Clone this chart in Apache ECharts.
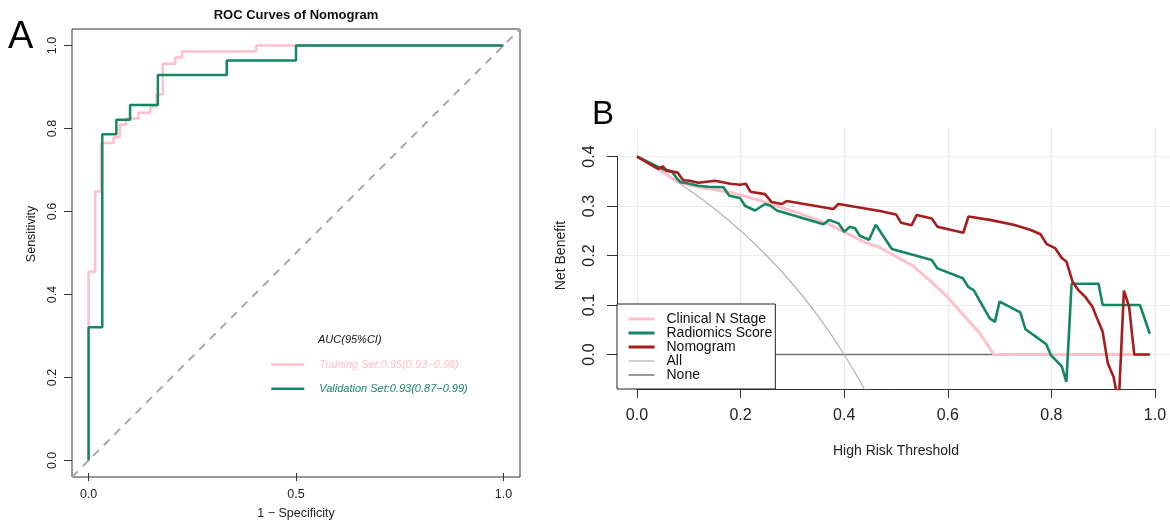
<!DOCTYPE html>
<html>
<head>
<meta charset="utf-8">
<title>ROC curves and decision curves of the nomogram</title>
<script src="https://cdn.jsdelivr.net/npm/echarts@6/dist/echarts.min.js"></script>
<style>
  html, body { margin: 0; padding: 0; background: #fff; }
  #chart { width: 1170px; height: 525px; }
</style>
</head>
<body>
<div id="chart"></div>
<script>
// ---- Panel A: ROC curves (step points, drawn with step: 'end') ----
const rocTrainFpr = [0, 0, 0.016, 0.030, 0.060, 0.075, 0.090, 0.120, 0.149, 0.164, 0.179, 0.209, 0.225, 0.404, 1.0]
const rocTrainTpr = [0, 0.455, 0.648, 0.765, 0.779, 0.809, 0.824, 0.838, 0.853, 0.882, 0.956, 0.971, 0.986, 1.0, 1.0]
const rocValidFpr = [0, 0, 0.033, 0.067, 0.100, 0.167, 0.333, 0.500, 1.0]
const rocValidTpr = [0, 0.321, 0.786, 0.821, 0.857, 0.929, 0.964, 1.0, 1.0]
const diagX = [-0.04, 1.04]
const diagY = [-0.04, 1.04]
const rocNames = ['Training Set:0.95(0.93\u22120.98)', 'Validation Set:0.93(0.87\u22120.99)']
const rocXTicks = [0, 0.5, 1.0]
const rocYTicks = [0, 0.2, 0.4, 0.6, 0.8, 1.0]

// ---- Panel B: decision curves ----
const dcaNames = ['Clinical N Stage', 'Radiomics Score', 'Nomogram', 'All', 'None']
const clinT = [0, 0.04, 0.08, 0.115, 0.18, 0.244, 0.308, 0.373, 0.437, 0.469, 0.488, 0.533, 0.565, 0.598, 0.63, 0.662, 0.689, 0.99]
const clinNb = [0.4, 0.375, 0.348, 0.339, 0.328, 0.309, 0.287, 0.262, 0.228, 0.216, 0.205, 0.179, 0.150, 0.118, 0.080, 0.043, 0, 0]
const radT = [0, 0.035, 0.048, 0.067, 0.077, 0.084, 0.097, 0.118, 0.138, 0.167, 0.178, 0.186, 0.199, 0.209, 0.228, 0.247,
  0.257, 0.27, 0.36, 0.371, 0.389, 0.40, 0.411, 0.421, 0.43, 0.448, 0.461, 0.492, 0.569, 0.58, 0.629, 0.64, 0.65,
  0.681, 0.691, 0.70, 0.74, 0.75, 0.79, 0.799, 0.82, 0.829, 0.839, 0.891, 0.899, 0.971, 0.99]
const radNb = [0.4, 0.382, 0.375, 0.37, 0.356, 0.348, 0.346, 0.341, 0.339, 0.338, 0.321, 0.319, 0.316, 0.3, 0.291, 0.304,
  0.301, 0.291, 0.263, 0.272, 0.265, 0.248, 0.258, 0.255, 0.24, 0.232, 0.262, 0.213, 0.191, 0.174, 0.154, 0.136, 0.13,
  0.073, 0.066, 0.107, 0.085, 0.051, 0.021, -0.001, -0.024, -0.055, 0.143, 0.143, 0.1, 0.1, 0.042]
const nomoT = [0, 0.041, 0.05, 0.057, 0.078, 0.089, 0.102, 0.118, 0.151, 0.18, 0.199, 0.21, 0.219, 0.247, 0.26, 0.279,
  0.289, 0.379, 0.389, 0.469, 0.5, 0.51, 0.53, 0.54, 0.569, 0.58, 0.63, 0.64, 0.681, 0.727, 0.759, 0.779, 0.791, 0.807,
  0.82, 0.829, 0.841, 0.852, 0.865, 0.879, 0.891, 0.899, 0.909, 0.92, 0.93, 0.94, 0.95, 0.96, 0.99]
const nomoNb = [0.4, 0.375, 0.38, 0.371, 0.368, 0.352, 0.351, 0.347, 0.351, 0.345, 0.343, 0.345, 0.329, 0.324, 0.308, 0.304,
  0.31, 0.294, 0.304, 0.29, 0.283, 0.266, 0.261, 0.282, 0.275, 0.258, 0.246, 0.279, 0.272, 0.262, 0.252, 0.243, 0.223, 0.215,
  0.195, 0.188, 0.147, 0.13, 0.117, 0.097, 0.066, 0.046, -0.018, -0.045, -0.1, 0.129, 0.097, 0, 0]
const allT = [0, 0.05, 0.1, 0.15, 0.2, 0.25, 0.3, 0.35, 0.4, 0.45]
const allNb = [0.4, 0.368, 0.333, 0.294, 0.25, 0.2, 0.143, 0.077, 0, -0.091]
const noneT = [0, 0.99]
const noneNb = [0, 0]
const dcaXTicks = [0, 0.2, 0.4, 0.6, 0.8, 1.0]
const dcaYTicks = [0, 0.1, 0.2, 0.3, 0.4]

const FONT = 'Liberation Sans, Arial, sans-serif'
const PINK = '#ffc0cb'
const GREEN = '#15875e'
const RED = '#a51d1d'
const ALL_GREY = '#b3b3b3'
const NONE_GREY = '#707070'
const AXIS = '#333'

const zip = (xs, ys) => xs.map((x, i) => [x, ys[i]])
const fmt = (v) => v.toFixed(1)

// plot boxes and their data ranges
const boxA = { left: 72, top: 29, width: 448, height: 448, x: [-0.04, 1.04], y: [-0.04, 1.04] }
const boxB = { left: 617, top: 127, width: 553, height: 262, x: [-0.0386, 1.029], y: [-0.0696, 0.4596] }

// sub grid that carries an axis over [a, b] of a box's range
function xSpan(box, a, b) {
  const k = box.width / (box.x[1] - box.x[0])
  return { left: box.left + (a - box.x[0]) * k, width: (b - a) * k, top: box.top, height: box.height }
}
function ySpan(box, a, b) {
  const k = box.height / (box.y[1] - box.y[0])
  return { top: box.top + (box.y[1] - b) * k, height: (b - a) * k, left: box.left, width: box.width }
}

const first = (a) => a[0]
const last = (a) => a[a.length - 1]
const step = (a) => a[1] - a[0]

const hidden = (gridIndex, range) => ({ type: 'value', gridIndex, min: range[0], max: range[1], show: false })

const chart = echarts.init(document.getElementById('chart'), null, { renderer: 'canvas' })

const tickLabel = (size, margin, rotate) => ({
  fontFamily: FONT, fontSize: size, color: '#222', margin, rotate, formatter: fmt,
})

const option = {
  animation: false,
  backgroundColor: '#fff',
  grid: [
    { left: boxA.left, top: boxA.top, width: boxA.width, height: boxA.height, show: true, borderColor: AXIS, borderWidth: 1 },
    xSpan(boxA, first(rocXTicks), last(rocXTicks)),
    ySpan(boxA, first(rocYTicks), last(rocYTicks)),
    { left: boxB.left, top: boxB.top, width: boxB.width, height: boxB.height },
    xSpan(boxB, first(dcaXTicks), last(dcaXTicks)),
    ySpan(boxB, first(dcaYTicks), last(dcaYTicks)),
  ],
  xAxis: [
    hidden(0, boxA.x),
    {
      type: 'value', gridIndex: 1, min: first(rocXTicks), max: last(rocXTicks), interval: step(rocXTicks),
      axisLine: { show: false },
      axisTick: { show: true, length: 8, lineStyle: { color: AXIS } },
      axisLabel: tickLabel(12.5, 15, 0),
      splitLine: { show: false },
      name: '1 \u2212 Specificity', nameLocation: 'middle', nameGap: 34,
      nameTextStyle: { fontFamily: FONT, fontSize: 12.5, color: '#222' },
    },
    hidden(2, [0, 1]),
    hidden(3, boxB.x),
    {
      type: 'value', gridIndex: 4, min: first(dcaXTicks), max: last(dcaXTicks), interval: step(dcaXTicks),
      axisLine: { show: true, lineStyle: { color: AXIS } },
      axisTick: { show: true, length: 9, lineStyle: { color: AXIS } },
      axisLabel: tickLabel(16, 19, 0),
      splitLine: { show: true, lineStyle: { color: '#ebebeb', width: 1 } },
      name: 'High Risk Threshold', nameLocation: 'middle', nameGap: 55,
      nameTextStyle: { fontFamily: FONT, fontSize: 14, color: '#222' },
    },
    hidden(5, [0, 1]),
  ],
  yAxis: [
    hidden(0, boxA.y),
    hidden(1, [0, 1]),
    {
      type: 'value', gridIndex: 2, min: first(rocYTicks), max: last(rocYTicks), interval: step(rocYTicks),
      axisLine: { show: false },
      axisTick: { show: true, length: 8, lineStyle: { color: AXIS } },
      axisLabel: tickLabel(12.5, 13, 90),
      splitLine: { show: false },
    },
    hidden(3, boxB.y),
    hidden(4, [0, 1]),
    {
      type: 'value', gridIndex: 5, min: first(dcaYTicks), max: last(dcaYTicks), interval: step(dcaYTicks),
      axisLine: { show: true, lineStyle: { color: AXIS } },
      axisTick: { show: true, length: 10, lineStyle: { color: AXIS } },
      axisLabel: tickLabel(16, 19, 90),
      splitLine: { show: true, lineStyle: { color: '#ebebeb', width: 1 } },
      name: 'Net Benefit', nameLocation: 'middle', nameGap: 49,
      nameTextStyle: { fontFamily: FONT, fontSize: 14, color: '#222' },
    },
  ],
  legend: [
    {
      left: 270, top: 359, orient: 'vertical', padding: 0,
      itemWidth: 33, itemHeight: 14, itemGap: 13, selectedMode: false,
      itemStyle: { opacity: 0 },
      textStyle: { fontFamily: FONT, fontSize: 11, fontStyle: 'italic', padding: [0, 0, 0, 10] },
      data: [
        { name: rocNames[0], textStyle: { color: PINK }, lineStyle: { width: 2.5 } },
        { name: rocNames[1], textStyle: { color: GREEN }, lineStyle: { width: 2.5 } },
      ],
    },
    {
      left: 617, top: 304, orient: 'vertical', padding: [8, 3, 7, 10],
      itemWidth: 26, itemHeight: 14, itemGap: 0, selectedMode: false,
      backgroundColor: '#fff', borderColor: '#222', borderWidth: 1, borderRadius: 0,
      itemStyle: { opacity: 0 },
      textStyle: { fontFamily: FONT, fontSize: 14, color: '#111', padding: [0, 0, 0, 7] },
      data: [
        { name: dcaNames[0], lineStyle: { width: 3 } },
        { name: dcaNames[1], lineStyle: { width: 3 } },
        { name: dcaNames[2], lineStyle: { width: 3 } },
        { name: dcaNames[3], lineStyle: { width: 2, color: '#cfcfcf' } },
        { name: dcaNames[4], lineStyle: { width: 1.2, color: '#555' } },
      ],
    },
  ],
  graphic: [
    { type: 'text', x: 296, y: 15, silent: true,
      style: { text: 'ROC Curves of Nomogram', font: 'bold 13px ' + FONT, fill: '#111', align: 'center', verticalAlign: 'middle' } },
    { type: 'text', x: 8, y: 38, silent: true,
      style: { text: 'A', font: '38px ' + FONT, fill: '#000', align: 'left', verticalAlign: 'middle' } },
    { type: 'text', x: 592, y: 115, silent: true,
      style: { text: 'B', font: '33px ' + FONT, fill: '#000', align: 'left', verticalAlign: 'middle' } },
    { type: 'text', x: 318, y: 340, silent: true,
      style: { text: 'AUC(95%CI)', font: 'italic 11px ' + FONT, fill: '#111', align: 'left', verticalAlign: 'middle' } },
    { type: 'text', x: 32, y: 234, rotation: Math.PI / 2, silent: true,
      style: { text: 'Sensitivity', font: '12.5px ' + FONT, fill: '#222', align: 'center', verticalAlign: 'middle' } },
  ],
  series: [
    { type: 'line', name: 'diagonal', xAxisIndex: 0, yAxisIndex: 0, data: zip(diagX, diagY), symbol: 'none', silent: true,
      lineStyle: { color: '#a9a9a9', width: 2, type: [8, 7] } },
    { type: 'line', name: rocNames[0], xAxisIndex: 0, yAxisIndex: 0, data: zip(rocTrainFpr, rocTrainTpr), step: 'end',
      symbol: 'none', silent: true, lineStyle: { color: PINK, width: 2.5 }, itemStyle: { color: PINK } },
    { type: 'line', name: rocNames[1], xAxisIndex: 0, yAxisIndex: 0, data: zip(rocValidFpr, rocValidTpr), step: 'end',
      symbol: 'none', silent: true, lineStyle: { color: GREEN, width: 2.5 }, itemStyle: { color: GREEN } },

    { type: 'line', name: 'None', xAxisIndex: 3, yAxisIndex: 3, data: zip(noneT, noneNb), symbol: 'none', silent: true,
      lineStyle: { color: NONE_GREY, width: 1.5 }, itemStyle: { color: NONE_GREY } },
    { type: 'line', name: 'All', xAxisIndex: 3, yAxisIndex: 3, data: zip(allT, allNb), symbol: 'none', silent: true,
      smooth: 0.5, lineStyle: { color: ALL_GREY, width: 1.2 }, itemStyle: { color: ALL_GREY } },
    { type: 'line', name: 'Clinical N Stage', xAxisIndex: 3, yAxisIndex: 3, data: zip(clinT, clinNb), symbol: 'none', silent: true,
      lineStyle: { color: PINK, width: 3 }, itemStyle: { color: PINK } },
    { type: 'line', name: 'Radiomics Score', xAxisIndex: 3, yAxisIndex: 3, data: zip(radT, radNb), symbol: 'none', silent: true,
      lineStyle: { color: GREEN, width: 2.6 }, itemStyle: { color: GREEN } },
    { type: 'line', name: 'Nomogram', xAxisIndex: 3, yAxisIndex: 3, data: zip(nomoT, nomoNb), symbol: 'none', silent: true,
      lineStyle: { color: RED, width: 2.6 }, itemStyle: { color: RED } },
  ],
}

chart.setOption(option)
window.onresize = () => {
  chart.resize()
}
</script>
</body>
</html>
